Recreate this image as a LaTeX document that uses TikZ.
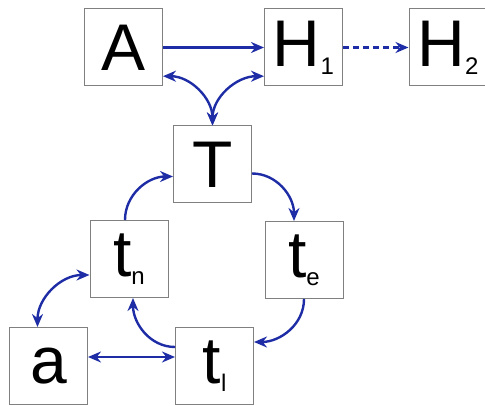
\documentclass[tikz,border=0pt]{standalone}
\usepackage{fontspec}
\setmainfont{Liberation Sans}
\usetikzlibrary{arrows.meta}
\definecolor{ln}{RGB}{30,45,165}
\newcommand{\lowsub}[1]{\raisebox{-8pt}{\fontsize{24}{24}\selectfont #1}}
\newcommand{\bx}[4]{\node[box] (#1) at (#2,#3) {#4};}

\begin{document}
\begin{tikzpicture}[x=1pt,y=-1pt,
  box/.style={draw=gray,line width=1pt,minimum width=78pt,minimum height=77pt,inner sep=0pt,font=\fontsize{66}{66}\selectfont},
  ar/.style={draw=ln,line width=2.4pt,-{Stealth[length=13pt,width=11pt]}},
  da/.style={ar,{Stealth[length=13pt,width=11pt]}-{Stealth[length=13pt,width=11pt]}}]
  \useasboundingbox (0,0) rectangle (485,406);
  \bx{A}{123.5}{47.5}{A} \bx{H1}{303.5}{47.5}{H\lowsub{1}} \bx{H2}{448}{47.5}{H\lowsub{2}}
  \bx{T}{212.5}{164.5}{T}
  \bx{tn}{129}{259}{t\lowsub{n}} \bx{te}{304}{260}{t\lowsub{e}}
  \bx{a}{48.5}{366}{a} \bx{tl}{214.5}{366}{t\lowsub{l}}
  % top row
  \draw[ar] (A) -- (H1);
  \draw[ar,dash pattern=on 6pt off 4pt] (H1) -- (H2);
  \draw[da] (A.-36) to[out=0,in=90] (T.north);
  \draw[da] (H1.-144) to[out=180,in=90] (T.north);
  % cycle
  \draw[ar] ([yshift=-9pt]T.east) to[out=0,in=90] ([xshift=-10pt]te.north);
  \draw[ar] (te.south) to[out=-90,in=0] ([yshift=24pt]tl.east);
  \draw[ar] ([yshift=19pt]tl.west) to[out=180,in=-90] ([xshift=4pt]tn.south);
  \draw[ar] ([xshift=-4pt]tn.north) to[out=90,in=180] ([yshift=-12pt]T.west);
  \draw[da] ([xshift=-11pt]a.north) to[out=90,in=180] ([yshift=-16pt]tn.west);
  \draw[da] ([yshift=9pt]a.east) -- ([yshift=9pt]tl.west);
\end{tikzpicture}
\end{document}
